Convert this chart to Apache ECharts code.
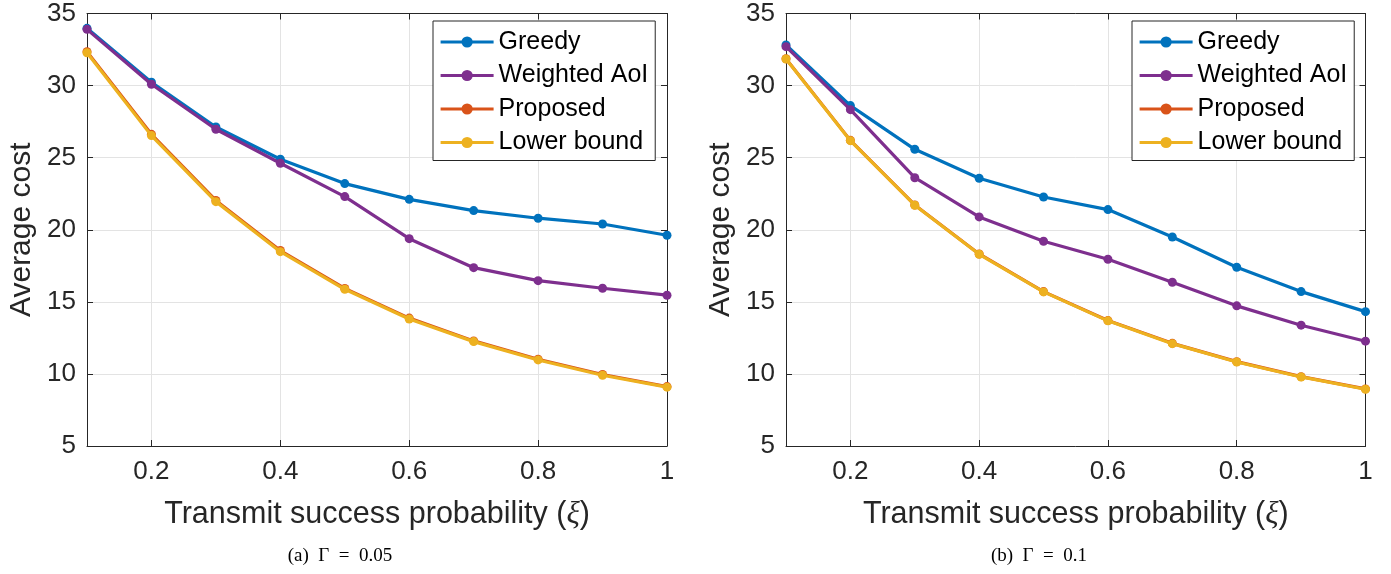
<!DOCTYPE html>
<html>
<head>
<meta charset="utf-8">
<script src="https://cdn.jsdelivr.net/npm/echarts@6/dist/echarts.min.js"></script>
<style>
html,body{margin:0;padding:0;background:#fff;}
#chart{width:1391px;height:574px;}
</style>
</head>
<body>
<div id="chart"></div>
<script>
const xValues = [0.1, 0.2, 0.3, 0.4, 0.5, 0.6, 0.7, 0.8, 0.9, 1.0];
const xTicks = [0.2, 0.4, 0.6, 0.8, 1];
const seriesNames = ['Greedy', 'Weighted AoI', 'Proposed', 'Lower bound'];
const colors = ['#0072BD', '#7E2F8E', '#D95319', '#EDB120'];

// (a) Gamma = 0.05
const greedyA   = [33.97, 30.23, 27.13, 24.89, 23.20, 22.11, 21.33, 20.80, 20.40, 19.62];
const weightedA = [33.90, 30.09, 26.97, 24.61, 22.30, 19.38, 17.37, 16.47, 15.94, 15.46];
const proposedA = [32.35, 26.62, 22.03, 18.56, 15.93, 13.87, 12.29, 11.02, 9.96, 9.12];
const lowerA    = [32.28, 26.53, 21.95, 18.48, 15.87, 13.81, 12.24, 10.97, 9.91, 9.08];

// (b) Gamma = 0.1
const greedyB   = [32.82, 28.61, 25.58, 23.57, 22.27, 21.40, 19.50, 17.40, 15.71, 14.32];
const weightedB = [32.70, 28.33, 23.61, 20.89, 19.20, 17.95, 16.36, 14.72, 13.38, 12.27];
const proposedB = [31.86, 26.20, 21.72, 18.32, 15.71, 13.70, 12.12, 10.85, 9.81, 8.96];
const lowerB    = [31.84, 26.18, 21.70, 18.30, 15.69, 13.68, 12.10, 10.83, 9.79, 8.94];

const captions = ['(a)  Γ  =  0.05', '(b)  Γ  =  0.1'];
const xTitle = 'Transmit success probability ({i|ξ})';
const yTitle = 'Average cost';

const dataSets = [
  [greedyA, weightedA, proposedA, lowerA],
  [greedyB, weightedB, proposedB, lowerB]
];

const FONT = 'Liberation Sans';
const TXT = '#262626';
const GRIDC = '#e3e3e3';

const grids = [
  {left: 87, right: 724, top: 13.5, bottom: 128},
  {left: 786, right: 25.5, top: 13.5, bottom: 128}
];

const xAxes = [], yAxes = [], series = [], legends = [];
grids.forEach((g, gi) => {
  xAxes.push({
    type: 'value', gridIndex: gi, min: 0.1, max: 1, position: 'bottom',
    name: xTitle, nameLocation: 'middle', nameGap: 53,
    nameTextStyle: {fontFamily: FONT, fontSize: 30.5, color: TXT,
      rich: {i: {fontFamily: 'Liberation Serif', fontStyle: 'italic', fontSize: 31, color: TXT}}},
    axisLine: {show: true, onZero: false, lineStyle: {color: TXT, width: 1}},
    axisTick: {show: true, inside: true, length: 6, customValues: xTicks, lineStyle: {color: TXT}},
    axisLabel: {show: true, customValues: xTicks, margin: 13, fontFamily: FONT, fontSize: 26, color: TXT,
      formatter: v => String(+v.toFixed(1))},
    splitLine: {show: true, lineStyle: {color: GRIDC, width: 1}}
  });
  xAxes.push({
    type: 'value', gridIndex: gi, min: 0.1, max: 1, position: 'top',
    axisLine: {show: true, onZero: false, lineStyle: {color: TXT, width: 1}},
    axisTick: {show: true, inside: true, length: 6, customValues: xTicks, lineStyle: {color: TXT}},
    axisLabel: {show: false, customValues: xTicks},
    splitLine: {show: false}
  });
  yAxes.push({
    type: 'value', gridIndex: gi, min: 5, max: 35, interval: 5, position: 'left',
    name: yTitle, nameLocation: 'middle', nameGap: 50,
    nameTextStyle: {fontFamily: FONT, fontSize: 30, color: TXT},
    axisLine: {show: true, onZero: false, lineStyle: {color: TXT, width: 1}},
    axisTick: {show: true, inside: true, length: 6, lineStyle: {color: TXT}},
    axisLabel: {show: true, margin: 11, fontFamily: FONT, fontSize: 26, color: TXT},
    splitLine: {show: true, lineStyle: {color: GRIDC, width: 1}}
  });
  yAxes.push({
    type: 'value', gridIndex: gi, min: 5, max: 35, interval: 5, position: 'right',
    axisLine: {show: true, onZero: false, lineStyle: {color: TXT, width: 1}},
    axisTick: {show: true, inside: true, length: 6, lineStyle: {color: TXT}},
    axisLabel: {show: false},
    splitLine: {show: false}
  });
  seriesNames.forEach((name, si) => {
    series.push({
      name: name, type: 'line',
      xAxisIndex: gi * 2, yAxisIndex: gi * 2,
      data: xValues.map((x, k) => [x, dataSets[gi][si][k]]),
      symbol: 'circle', symbolSize: 9,
      lineStyle: {color: colors[si], width: 3.2},
      itemStyle: {color: colors[si]},
      z: 2 + si,
      animation: false
    });
  });
  const legLeft = gi === 0 ? 433 : 1132;
  legends.push({
    data: seriesNames,
    orient: 'vertical',
    left: legLeft, top: 21,
    padding: [7, 7, 4, 6],
    itemWidth: 53, itemHeight: 14, itemGap: 5.5,
    borderColor: TXT, borderWidth: 1, backgroundColor: '#fff',
    lineStyle: {width: 3.2},
    textStyle: {fontFamily: FONT, fontSize: 25, color: '#000', lineHeight: 28},
    selectedMode: false
  });
});

const option = {
  backgroundColor: '#fff',
  animation: false,
  color: colors,
  grid: grids,
  xAxis: xAxes,
  yAxis: yAxes,
  legend: legends,
  series: series,
  graphic: [
    {type: 'text', left: 'center', x: 0, top: 546, style: {text: captions[0], fontFamily: 'Liberation Serif', fontSize: 19, fill: '#000'}},
    {type: 'text', top: 546, style: {text: captions[1], fontFamily: 'Liberation Serif', fontSize: 19, fill: '#000'}}
  ]
};
// position captions centered at given x
option.graphic[0] = {type: 'text', x: 340, y: 547, style: {text: captions[0], fontFamily: 'Liberation Serif', fontSize: 19, fill: '#000', align: 'center', verticalAlign: 'top'}};
option.graphic[1] = {type: 'text', x: 1039, y: 547, style: {text: captions[1], fontFamily: 'Liberation Serif', fontSize: 19, fill: '#000', align: 'center', verticalAlign: 'top'}};

const chart = echarts.init(document.getElementById('chart'), null, {renderer: 'canvas'});
chart.setOption(option);
</script>
</body>
</html>
